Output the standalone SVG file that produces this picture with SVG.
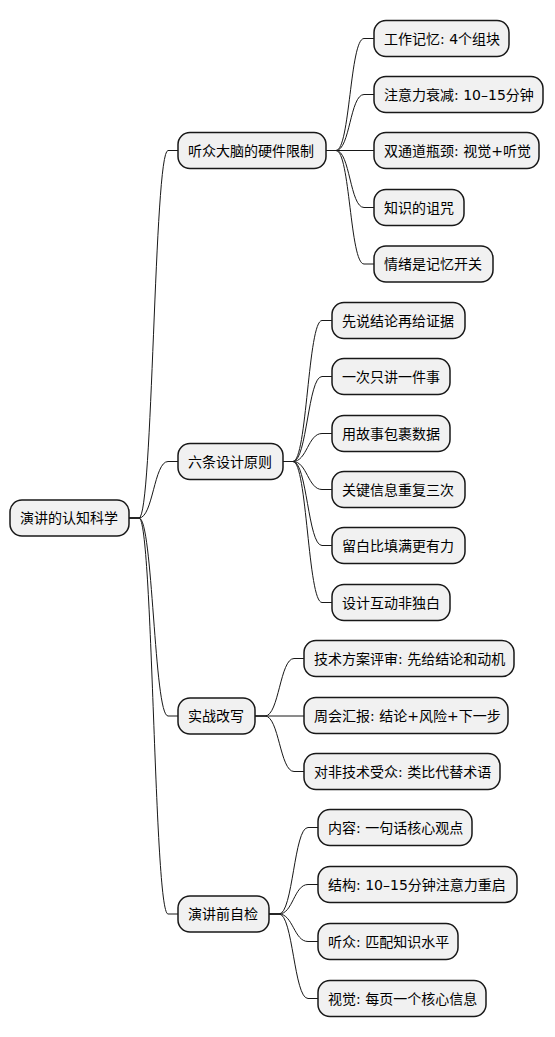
<svg xmlns="http://www.w3.org/2000/svg" width="555" height="1037" viewBox="0 0 555 1037">
<style>
.n rect{fill:#F1F1F1;stroke:#181818;stroke-width:1.5}
.n text{font-family:"DejaVu Sans","Noto Sans CJK SC",sans-serif;font-size:14px;fill:#000;dominant-baseline:central}
.c path{fill:none;stroke:#181818;stroke-width:1}
</style>
<rect width="555" height="1037" fill="#FFFFFF"/>
<g class="c">
<path d="M129,518 H139 C153,518 154,150.5 168,150.5 H178"/>
<path d="M129,518 H139 C153,518 154,461.5 168,461.5 H178"/>
<path d="M129,518 H139 C153,518 154,716 168,716 H178"/>
<path d="M129,518 H139 C153,518 154,914 168,914 H178"/>
<path d="M326,150.5 H336 C350,150.5 350,38.5 364,38.5 H374"/>
<path d="M326,150.5 H336 C350,150.5 350,94.5 364,94.5 H374"/>
<path d="M326,150.5 H374"/>
<path d="M326,150.5 H336 C350,150.5 350,207.5 364,207.5 H374"/>
<path d="M326,150.5 H336 C350,150.5 350,264 364,264 H374"/>
<path d="M283,461.5 H293 C307,461.5 308,320.5 322,320.5 H332"/>
<path d="M283,461.5 H293 C307,461.5 308,376.5 322,376.5 H332"/>
<path d="M283,461.5 H293 C307,461.5 308,433.5 322,433.5 H332"/>
<path d="M283,461.5 H293 C307,461.5 308,489.5 322,489.5 H332"/>
<path d="M283,461.5 H293 C307,461.5 308,545.5 322,545.5 H332"/>
<path d="M283,461.5 H293 C307,461.5 308,602.5 322,602.5 H332"/>
<path d="M255,716 H265 C279,716 280,658.5 294,658.5 H304"/>
<path d="M255,716 H304"/>
<path d="M255,716 H265 C279,716 280,771.5 294,771.5 H304"/>
<path d="M269,914 H279 C293,914 294,827.5 308,827.5 H318"/>
<path d="M269,914 H279 C293,914 294,884.5 308,884.5 H318"/>
<path d="M269,914 H279 C293,914 294,941.5 308,941.5 H318"/>
<path d="M269,914 H279 C293,914 294,998.5 308,998.5 H318"/>
</g>
<g id="root" class="n"><rect x="10" y="500" width="119" height="36" rx="12"/><text x="20" y="518">演讲的认知科学</text></g>
<g id="n1" class="n"><rect x="178" y="132.5" width="148" height="36" rx="12"/><text x="188" y="150.5">听众大脑的硬件限制</text></g>
<g id="n2" class="n"><rect x="178" y="443.5" width="105" height="36" rx="12"/><text x="188" y="461.5">六条设计原则</text></g>
<g id="n3" class="n"><rect x="178" y="698" width="77" height="36" rx="12"/><text x="188" y="716">实战改写</text></g>
<g id="n4" class="n"><rect x="178" y="896" width="91" height="36" rx="12"/><text x="188" y="914">演讲前自检</text></g>
<g id="n1a" class="n"><rect x="374" y="20.5" width="135" height="36" rx="12"/><text x="384" y="38.5">工作记忆: 4个组块</text></g>
<g id="n1b" class="n"><rect x="374" y="76.5" width="169" height="36" rx="12"/><text x="384" y="94.5">注意力衰减: 10–15分钟</text></g>
<g id="n1c" class="n"><rect x="374" y="132.5" width="165" height="36" rx="12"/><text x="384" y="150.5">双通道瓶颈: 视觉+听觉</text></g>
<g id="n1d" class="n"><rect x="374" y="189.5" width="90" height="36" rx="12"/><text x="384" y="207.5">知识的诅咒</text></g>
<g id="n1e" class="n"><rect x="374" y="246" width="119" height="36" rx="12"/><text x="384" y="264">情绪是记忆开关</text></g>
<g id="n2a" class="n"><rect x="332" y="302.5" width="133" height="36" rx="12"/><text x="342" y="320.5">先说结论再给证据</text></g>
<g id="n2b" class="n"><rect x="332" y="358.5" width="118" height="36" rx="12"/><text x="342" y="376.5">一次只讲一件事</text></g>
<g id="n2c" class="n"><rect x="332" y="415.5" width="118" height="36" rx="12"/><text x="342" y="433.5">用故事包裹数据</text></g>
<g id="n2d" class="n"><rect x="332" y="471.5" width="133" height="36" rx="12"/><text x="342" y="489.5">关键信息重复三次</text></g>
<g id="n2e" class="n"><rect x="332" y="527.5" width="133" height="36" rx="12"/><text x="342" y="545.5">留白比填满更有力</text></g>
<g id="n2f" class="n"><rect x="332" y="584.5" width="118" height="36" rx="12"/><text x="342" y="602.5">设计互动非独白</text></g>
<g id="n3a" class="n"><rect x="304" y="640.5" width="210" height="36" rx="12"/><text x="314" y="658.5">技术方案评审: 先给结论和动机</text></g>
<g id="n3b" class="n"><rect x="304" y="697.5" width="204" height="36" rx="12"/><text x="314" y="715.5">周会汇报: 结论+风险+下一步</text></g>
<g id="n3c" class="n"><rect x="304" y="753.5" width="196" height="36" rx="12"/><text x="314" y="771.5">对非技术受众: 类比代替术语</text></g>
<g id="n4a" class="n"><rect x="318" y="809.5" width="154" height="36" rx="12"/><text x="328" y="827.5">内容: 一句话核心观点</text></g>
<g id="n4b" class="n"><rect x="318" y="866.5" width="199" height="36" rx="12"/><text x="328" y="884.5">结构: 10–15分钟注意力重启</text></g>
<g id="n4c" class="n"><rect x="318" y="923.5" width="140" height="36" rx="12"/><text x="328" y="941.5">听众: 匹配知识水平</text></g>
<g id="n4d" class="n"><rect x="318" y="980.5" width="168" height="36" rx="12"/><text x="328" y="998.5">视觉: 每页一个核心信息</text></g>
</svg>
